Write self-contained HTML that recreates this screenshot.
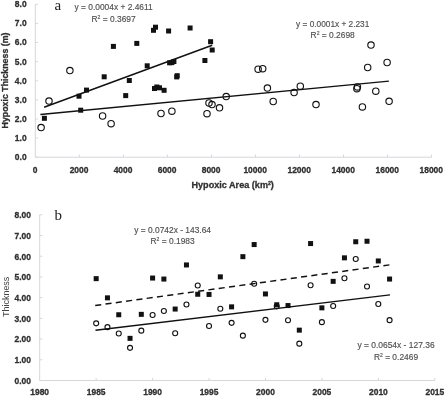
<!DOCTYPE html>
<html><head><meta charset="utf-8"><title>chart</title>
<style>html,body{margin:0;padding:0;background:#fff;}svg{display:block;will-change:transform;}text{font-family:"Liberation Sans",sans-serif;}.s{font-family:"Liberation Serif",serif;}</style>
</head><body>
<svg width="445" height="396" viewBox="0 0 445 396">
<rect width="445" height="396" fill="#ffffff"/>
<g stroke="#d4d7da" stroke-width="1" fill="none" shape-rendering="auto">
<path d="M35.3 4.3V157.2H431.6"/>
<path d="M35.3 4.30h2.6"/>
<path d="M35.3 23.41h2.6"/>
<path d="M35.3 42.52h2.6"/>
<path d="M35.3 61.64h2.6"/>
<path d="M35.3 80.75h2.6"/>
<path d="M35.3 99.86h2.6"/>
<path d="M35.3 118.97h2.6"/>
<path d="M35.3 138.09h2.6"/>
<path d="M35.3 157.20h2.6"/>
<path d="M79.33 157.2v-2.6"/>
<path d="M123.36 157.2v-2.6"/>
<path d="M167.39 157.2v-2.6"/>
<path d="M211.42 157.2v-2.6"/>
<path d="M255.45 157.2v-2.6"/>
<path d="M299.48 157.2v-2.6"/>
<path d="M343.51 157.2v-2.6"/>
<path d="M387.54 157.2v-2.6"/>
<path d="M431.57 157.2v-2.6"/>
</g>
<g stroke="#d4d7da" stroke-width="1" fill="none">
<path d="M39.7 214.8V380.5H434.8"/>
<path d="M39.7 214.80h2.6"/>
<path d="M39.7 235.51h2.6"/>
<path d="M39.7 256.23h2.6"/>
<path d="M39.7 276.94h2.6"/>
<path d="M39.7 297.65h2.6"/>
<path d="M39.7 318.36h2.6"/>
<path d="M39.7 339.07h2.6"/>
<path d="M39.7 359.79h2.6"/>
<path d="M39.7 380.50h2.6"/>
<path d="M96.15 380.5v-2.6"/>
<path d="M152.60 380.5v-2.6"/>
<path d="M209.05 380.5v-2.6"/>
<path d="M265.50 380.5v-2.6"/>
<path d="M321.95 380.5v-2.6"/>
<path d="M378.40 380.5v-2.6"/>
<path d="M434.85 380.5v-2.6"/>
</g>
<text x="26.60" y="7.18" font-size="8.45" font-weight="bold" fill="#303030" stroke="#303030" stroke-width="0.3" text-anchor="end">8.0</text>
<text x="26.60" y="26.33" font-size="8.45" font-weight="bold" fill="#303030" stroke="#303030" stroke-width="0.3" text-anchor="end">7.0</text>
<text x="26.60" y="45.48" font-size="8.45" font-weight="bold" fill="#303030" stroke="#303030" stroke-width="0.3" text-anchor="end">6.0</text>
<text x="26.60" y="64.63" font-size="8.45" font-weight="bold" fill="#303030" stroke="#303030" stroke-width="0.3" text-anchor="end">5.0</text>
<text x="26.60" y="83.78" font-size="8.45" font-weight="bold" fill="#303030" stroke="#303030" stroke-width="0.3" text-anchor="end">4.0</text>
<text x="26.60" y="102.93" font-size="8.45" font-weight="bold" fill="#303030" stroke="#303030" stroke-width="0.3" text-anchor="end">3.0</text>
<text x="26.60" y="122.08" font-size="8.45" font-weight="bold" fill="#303030" stroke="#303030" stroke-width="0.3" text-anchor="end">2.0</text>
<text x="26.60" y="141.23" font-size="8.45" font-weight="bold" fill="#303030" stroke="#303030" stroke-width="0.3" text-anchor="end">1.0</text>
<text x="26.60" y="160.38" font-size="8.45" font-weight="bold" fill="#303030" stroke="#303030" stroke-width="0.3" text-anchor="end">0.0</text>
<text x="35.00" y="172.63" font-size="8.45" font-weight="bold" fill="#303030" stroke="#303030" stroke-width="0.3" text-anchor="middle">0</text>
<text x="79.03" y="172.63" font-size="8.45" font-weight="bold" fill="#303030" stroke="#303030" stroke-width="0.3" text-anchor="middle">2000</text>
<text x="123.06" y="172.63" font-size="8.45" font-weight="bold" fill="#303030" stroke="#303030" stroke-width="0.3" text-anchor="middle">4000</text>
<text x="167.09" y="172.63" font-size="8.45" font-weight="bold" fill="#303030" stroke="#303030" stroke-width="0.3" text-anchor="middle">6000</text>
<text x="211.12" y="172.63" font-size="8.45" font-weight="bold" fill="#303030" stroke="#303030" stroke-width="0.3" text-anchor="middle">8000</text>
<text x="255.15" y="172.63" font-size="8.45" font-weight="bold" fill="#303030" stroke="#303030" stroke-width="0.3" text-anchor="middle">10000</text>
<text x="299.18" y="172.63" font-size="8.45" font-weight="bold" fill="#303030" stroke="#303030" stroke-width="0.3" text-anchor="middle">12000</text>
<text x="343.21" y="172.63" font-size="8.45" font-weight="bold" fill="#303030" stroke="#303030" stroke-width="0.3" text-anchor="middle">14000</text>
<text x="387.24" y="172.63" font-size="8.45" font-weight="bold" fill="#303030" stroke="#303030" stroke-width="0.3" text-anchor="middle">16000</text>
<text x="431.27" y="172.63" font-size="8.45" font-weight="bold" fill="#303030" stroke="#303030" stroke-width="0.3" text-anchor="middle">18000</text>
<text x="31.00" y="218.13" font-size="8.45" font-weight="bold" fill="#303030" stroke="#303030" stroke-width="0.3" text-anchor="end">8.00</text>
<text x="31.00" y="238.84" font-size="8.45" font-weight="bold" fill="#303030" stroke="#303030" stroke-width="0.3" text-anchor="end">7.00</text>
<text x="31.00" y="259.55" font-size="8.45" font-weight="bold" fill="#303030" stroke="#303030" stroke-width="0.3" text-anchor="end">6.00</text>
<text x="31.00" y="280.26" font-size="8.45" font-weight="bold" fill="#303030" stroke="#303030" stroke-width="0.3" text-anchor="end">5.00</text>
<text x="31.00" y="300.98" font-size="8.45" font-weight="bold" fill="#303030" stroke="#303030" stroke-width="0.3" text-anchor="end">4.00</text>
<text x="31.00" y="321.69" font-size="8.45" font-weight="bold" fill="#303030" stroke="#303030" stroke-width="0.3" text-anchor="end">3.00</text>
<text x="31.00" y="342.40" font-size="8.45" font-weight="bold" fill="#303030" stroke="#303030" stroke-width="0.3" text-anchor="end">2.00</text>
<text x="31.00" y="363.11" font-size="8.45" font-weight="bold" fill="#303030" stroke="#303030" stroke-width="0.3" text-anchor="end">1.00</text>
<text x="31.00" y="383.83" font-size="8.45" font-weight="bold" fill="#303030" stroke="#303030" stroke-width="0.3" text-anchor="end">0.00</text>
<text x="39.70" y="395.43" font-size="8.45" font-weight="bold" fill="#303030" stroke="#303030" stroke-width="0.3" text-anchor="middle">1980</text>
<text x="96.15" y="395.43" font-size="8.45" font-weight="bold" fill="#303030" stroke="#303030" stroke-width="0.3" text-anchor="middle">1985</text>
<text x="152.60" y="395.43" font-size="8.45" font-weight="bold" fill="#303030" stroke="#303030" stroke-width="0.3" text-anchor="middle">1990</text>
<text x="209.05" y="395.43" font-size="8.45" font-weight="bold" fill="#303030" stroke="#303030" stroke-width="0.3" text-anchor="middle">1995</text>
<text x="265.50" y="395.43" font-size="8.45" font-weight="bold" fill="#303030" stroke="#303030" stroke-width="0.3" text-anchor="middle">2000</text>
<text x="321.95" y="395.43" font-size="8.45" font-weight="bold" fill="#303030" stroke="#303030" stroke-width="0.3" text-anchor="middle">2005</text>
<text x="378.40" y="395.43" font-size="8.45" font-weight="bold" fill="#303030" stroke="#303030" stroke-width="0.3" text-anchor="middle">2010</text>
<text x="434.85" y="395.43" font-size="8.45" font-weight="bold" fill="#303030" stroke="#303030" stroke-width="0.3" text-anchor="middle">2015</text>
<text x="232.70" y="187.80" font-size="9.1" font-weight="bold" fill="#303030" stroke="#303030" stroke-width="0.3" text-anchor="middle">Hypoxic Area (km<tspan baseline-shift="super" font-size="5.2">2</tspan>)</text>
<text transform="translate(8.3 80.5) rotate(-90)" font-size="8.8" font-weight="bold" fill="#303030" stroke="#303030" stroke-width="0.3" text-anchor="middle">Hypoxic Thickness (m)</text>
<text transform="translate(8.7 296.8) rotate(-90)" font-size="9.3" fill="#444" text-anchor="middle" textLength="40.2" lengthAdjust="spacingAndGlyphs">Thickness</text>
<text class="s" x="54.5" y="10.1" font-size="15" fill="#222">a</text>
<text class="s" x="54.6" y="219.6" font-size="15" fill="#222">b</text>
<text x="74.50" y="9.90" font-size="8.6" fill="#505050" stroke="#505050" stroke-width="0.15" textLength="78.2" lengthAdjust="spacingAndGlyphs">y = 0.0004x + 2.4611</text>
<text x="91.50" y="21.50" font-size="8.6" fill="#505050" stroke="#505050" stroke-width="0.15" textLength="44.2" lengthAdjust="spacingAndGlyphs">R<tspan baseline-shift="super" font-size="5.2">2</tspan> = 0.3697</text>
<text x="296.10" y="27.00" font-size="8.6" fill="#505050" stroke="#505050" stroke-width="0.15" textLength="73.2" lengthAdjust="spacingAndGlyphs">y = 0.0001x + 2.231</text>
<text x="310.60" y="38.30" font-size="8.6" fill="#505050" stroke="#505050" stroke-width="0.15" textLength="44.2" lengthAdjust="spacingAndGlyphs">R<tspan baseline-shift="super" font-size="5.2">2</tspan> = 0.2698</text>
<text x="134.20" y="232.50" font-size="8.6" fill="#505050" stroke="#505050" stroke-width="0.15" textLength="76.8" lengthAdjust="spacingAndGlyphs">y = 0.0742x - 143.64</text>
<text x="150.50" y="243.50" font-size="8.6" fill="#505050" stroke="#505050" stroke-width="0.15" textLength="44.2" lengthAdjust="spacingAndGlyphs">R<tspan baseline-shift="super" font-size="5.2">2</tspan> = 0.1983</text>
<text x="357.40" y="347.80" font-size="8.6" fill="#505050" stroke="#505050" stroke-width="0.15" textLength="77.2" lengthAdjust="spacingAndGlyphs">y = 0.0654x - 127.36</text>
<text x="373.90" y="359.60" font-size="8.6" fill="#505050" stroke="#505050" stroke-width="0.15" textLength="44.2" lengthAdjust="spacingAndGlyphs">R<tspan baseline-shift="super" font-size="5.2">2</tspan> = 0.2469</text>
<g stroke="#111111" stroke-width="1.45" fill="none" stroke-linecap="butt">
<path d="M44.1 107.2L212.2 45.2"/>
<path d="M40.4 114.5L388.9 81.1"/>
<path d="M95.5 330.2L390 294.9"/>
<path d="M95.2 305.5L389.4 264.9" stroke-dasharray="6.1 4.29"/>
</g>
<g fill="#111111">
<rect x="41.90" y="115.80" width="5.0" height="5.0"/>
<rect x="76.50" y="93.70" width="5.0" height="5.0"/>
<rect x="78.20" y="107.70" width="5.0" height="5.0"/>
<rect x="84.00" y="87.60" width="5.0" height="5.0"/>
<rect x="101.70" y="74.30" width="5.0" height="5.0"/>
<rect x="110.90" y="43.90" width="5.0" height="5.0"/>
<rect x="123.20" y="93.10" width="5.0" height="5.0"/>
<rect x="126.80" y="78.00" width="5.0" height="5.0"/>
<rect x="134.30" y="40.90" width="5.0" height="5.0"/>
<rect x="144.70" y="63.30" width="5.0" height="5.0"/>
<rect x="151.00" y="27.80" width="5.0" height="5.0"/>
<rect x="153.00" y="24.70" width="5.0" height="5.0"/>
<rect x="152.00" y="86.00" width="5.0" height="5.0"/>
<rect x="154.30" y="84.50" width="5.0" height="5.0"/>
<rect x="157.00" y="85.30" width="5.0" height="5.0"/>
<rect x="161.60" y="87.80" width="5.0" height="5.0"/>
<rect x="166.10" y="28.50" width="5.0" height="5.0"/>
<rect x="167.10" y="60.30" width="5.0" height="5.0"/>
<rect x="169.40" y="60.10" width="5.0" height="5.0"/>
<rect x="171.40" y="59.00" width="5.0" height="5.0"/>
<rect x="174.20" y="74.40" width="5.0" height="5.0"/>
<rect x="174.70" y="73.20" width="5.0" height="5.0"/>
<rect x="187.60" y="25.50" width="5.0" height="5.0"/>
<rect x="202.40" y="58.00" width="5.0" height="5.0"/>
<rect x="208.10" y="39.20" width="5.0" height="5.0"/>
<rect x="209.70" y="47.50" width="5.0" height="5.0"/>
<rect x="93.67" y="276.15" width="5.0" height="5.0"/>
<rect x="104.96" y="295.35" width="5.0" height="5.0"/>
<rect x="116.25" y="312.25" width="5.0" height="5.0"/>
<rect x="127.53" y="335.85" width="5.0" height="5.0"/>
<rect x="138.81" y="311.85" width="5.0" height="5.0"/>
<rect x="150.10" y="275.55" width="5.0" height="5.0"/>
<rect x="161.38" y="276.55" width="5.0" height="5.0"/>
<rect x="172.67" y="306.55" width="5.0" height="5.0"/>
<rect x="183.96" y="262.45" width="5.0" height="5.0"/>
<rect x="195.24" y="291.75" width="5.0" height="5.0"/>
<rect x="206.53" y="291.95" width="5.0" height="5.0"/>
<rect x="217.81" y="274.35" width="5.0" height="5.0"/>
<rect x="229.09" y="304.35" width="5.0" height="5.0"/>
<rect x="240.38" y="254.15" width="5.0" height="5.0"/>
<rect x="251.66" y="242.05" width="5.0" height="5.0"/>
<rect x="262.95" y="291.45" width="5.0" height="5.0"/>
<rect x="274.24" y="302.25" width="5.0" height="5.0"/>
<rect x="285.52" y="303.05" width="5.0" height="5.0"/>
<rect x="296.81" y="327.65" width="5.0" height="5.0"/>
<rect x="308.09" y="241.05" width="5.0" height="5.0"/>
<rect x="319.38" y="305.35" width="5.0" height="5.0"/>
<rect x="330.66" y="278.85" width="5.0" height="5.0"/>
<rect x="341.94" y="255.35" width="5.0" height="5.0"/>
<rect x="353.23" y="239.25" width="5.0" height="5.0"/>
<rect x="364.51" y="238.75" width="5.0" height="5.0"/>
<rect x="375.80" y="258.45" width="5.0" height="5.0"/>
<rect x="387.08" y="276.55" width="5.0" height="5.0"/>
</g>
<g fill="none" stroke="#111111" stroke-width="1.12">
<circle cx="41.1" cy="127.6" r="3.2"/>
<circle cx="49.0" cy="101.1" r="3.2"/>
<circle cx="69.9" cy="70.6" r="3.2"/>
<circle cx="102.6" cy="116.0" r="3.2"/>
<circle cx="111.1" cy="123.7" r="3.2"/>
<circle cx="161.0" cy="113.5" r="3.2"/>
<circle cx="171.9" cy="111.2" r="3.2"/>
<circle cx="207.0" cy="113.7" r="3.2"/>
<circle cx="209.0" cy="103.0" r="3.2"/>
<circle cx="212.0" cy="104.6" r="3.2"/>
<circle cx="219.5" cy="107.8" r="3.2"/>
<circle cx="226.2" cy="96.6" r="3.2"/>
<circle cx="258.1" cy="69.2" r="3.2"/>
<circle cx="262.7" cy="68.7" r="3.2"/>
<circle cx="267.4" cy="88.1" r="3.2"/>
<circle cx="273.2" cy="101.5" r="3.2"/>
<circle cx="294.1" cy="92.6" r="3.2"/>
<circle cx="300.3" cy="86.2" r="3.2"/>
<circle cx="316" cy="104.6" r="3.2"/>
<circle cx="356.9" cy="88.7" r="3.2"/>
<circle cx="357.4" cy="86.9" r="3.2"/>
<circle cx="362.4" cy="106.9" r="3.2"/>
<circle cx="367.7" cy="67.5" r="3.2"/>
<circle cx="371" cy="45.1" r="3.2"/>
<circle cx="375.8" cy="91.2" r="3.2"/>
<circle cx="387.1" cy="62.5" r="3.2"/>
<circle cx="389.1" cy="101.3" r="3.2"/>
<circle cx="96.17" cy="323.35" r="2.5"/>
<circle cx="107.46" cy="327.15" r="2.5"/>
<circle cx="118.75" cy="333.45" r="2.5"/>
<circle cx="130.03" cy="347.85" r="2.5"/>
<circle cx="141.31" cy="330.65" r="2.5"/>
<circle cx="152.60" cy="314.95" r="2.5"/>
<circle cx="163.88" cy="310.95" r="2.5"/>
<circle cx="175.17" cy="333.25" r="2.5"/>
<circle cx="186.46" cy="304.45" r="2.5"/>
<circle cx="197.74" cy="285.55" r="2.5"/>
<circle cx="209.03" cy="325.95" r="2.5"/>
<circle cx="220.31" cy="308.75" r="2.5"/>
<circle cx="231.59" cy="322.85" r="2.5"/>
<circle cx="242.88" cy="335.65" r="2.5"/>
<circle cx="254.16" cy="283.75" r="2.5"/>
<circle cx="265.45" cy="319.85" r="2.5"/>
<circle cx="276.74" cy="306.35" r="2.5"/>
<circle cx="288.02" cy="320.25" r="2.5"/>
<circle cx="299.31" cy="343.65" r="2.5"/>
<circle cx="310.59" cy="285.25" r="2.5"/>
<circle cx="321.88" cy="322.15" r="2.5"/>
<circle cx="333.16" cy="305.95" r="2.5"/>
<circle cx="344.44" cy="278.25" r="2.5"/>
<circle cx="355.73" cy="259.05" r="2.5"/>
<circle cx="367.01" cy="286.55" r="2.5"/>
<circle cx="378.30" cy="303.95" r="2.5"/>
<circle cx="389.58" cy="320.15" r="2.5"/>
</g>
</svg></body></html>
